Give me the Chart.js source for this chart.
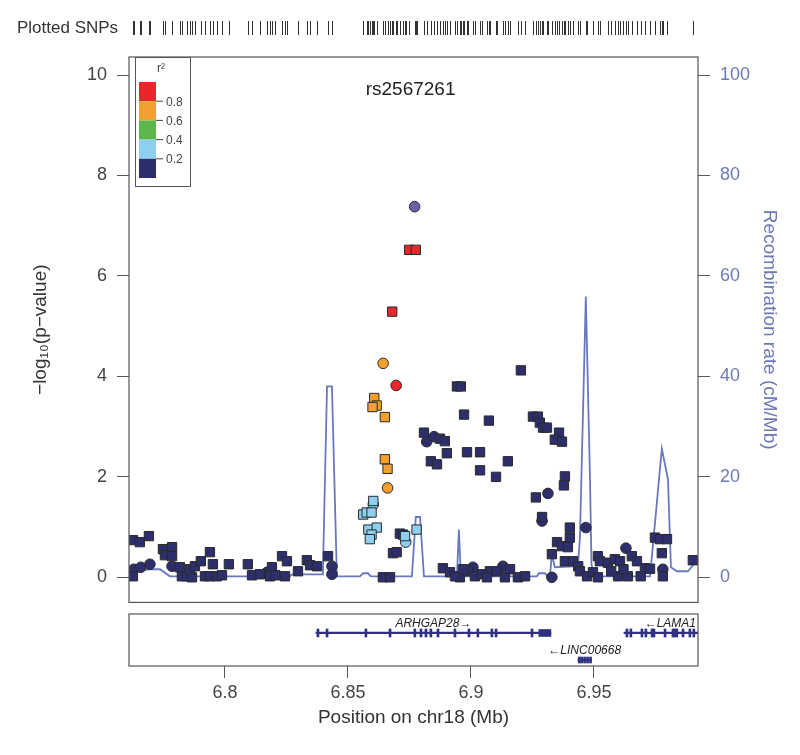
<!DOCTYPE html>
<html lang="en">
<head>
<meta charset="UTF-8">
<title>rs2567261 regional association plot</title>
<script src="https://cdn.jsdelivr.net/npm/chart.js"></script>
<style>
  body { margin: 0; background: #ffffff; }
  .wrap { position: relative; width: 800px; height: 755px; }
  #mainWrap { position: absolute; left: 0; top: 0; width: 800px; height: 610px; }
  #geneWrap { position: absolute; left: 0; top: 608px; width: 800px; height: 147px; }
</style>
</head>
<body>
<div class="wrap">
  <div id="mainWrap"><canvas id="mainChart"></canvas></div>
  <div id="geneWrap"><canvas id="geneChart"></canvas></div>
</div>
<script>
// ---- data (position in Mb, -log10 p) ----
const leadSnp = 'rs2567261';
const topSnp = [[6.8771, 7.38]];
const redSquares = [[6.8749, 6.52], [6.8776, 6.52], [6.8680, 5.29]];
const redCircles = [[6.8696, 3.82]];
const orangeSquares = [[6.8607, 3.57], [6.8617, 3.42], [6.8600, 3.39], [6.8650, 3.19], [6.8650, 2.35], [6.8661, 2.16]];
const orangeCircles = [[6.8643, 4.26], [6.8661, 1.78]];
const blueSquares = [[6.8603, 1.52], [6.8562, 1.25], [6.8576, 1.29], [6.8596, 1.29], [6.8583, 0.95],
  [6.8617, 0.99], [6.8596, 0.85], [6.8589, 0.76], [6.8732, 0.82], [6.8779, 0.95]];
const blueCircles = [[6.8603, 1.45], [6.8735, 0.70]];
const navySquares = [
  [6.7626, 0.74], [6.7654, 0.70], [6.7691, 0.82], [6.7626, 0.02], [6.7748, 0.56], [6.7785, 0.60], [6.7756, 0.44], [6.7785, 0.42],
  [6.7817, 0.20], [6.7825, 0.02], [6.7846, 0.02], [6.7866, 0.00], [6.7858, 0.16], [6.7878, 0.22], [6.7902, 0.32], [6.7939, 0.50],
  [6.7951, 0.26], [6.7919, 0.02], [6.7939, 0.02], [6.7967, 0.02], [6.7988, 0.04], [6.8016, 0.26], [6.8093, 0.26], [6.8110, 0.04],
  [6.8142, 0.06], [6.8191, 0.20], [6.8183, 0.02], [6.8205, 0.04], [6.8232, 0.42], [6.8252, 0.32], [6.8244, 0.02], [6.8297, 0.12],
  [6.8333, 0.34], [6.8346, 0.24], [6.8374, 0.22], [6.8419, 0.42],
  [6.8642, 0.00], [6.8671, 0.00], [6.8683, 0.48], [6.8698, 0.50], [6.8711, 0.87], [6.8724, 0.85],
  [6.8943, 3.80], [6.8959, 3.80], [6.9203, 4.12], [6.8972, 3.24], [6.9073, 3.12], [6.8809, 2.88], [6.8874, 2.76], [6.8894, 2.71],
  [6.8902, 2.47], [6.8984, 2.49], [6.9037, 2.49], [6.8837, 2.31], [6.8862, 2.25], [6.9037, 2.13], [6.9102, 2.00], [6.9150, 2.31],
  [6.9252, 3.20], [6.9272, 3.20], [6.9280, 3.08], [6.9293, 2.98], [6.9309, 2.98], [6.9358, 2.88], [6.9341, 2.74], [6.9370, 2.70],
  [6.9382, 2.01], [6.9378, 1.83], [6.9264, 1.59], [6.9289, 1.20],
  [6.9402, 0.99], [6.9402, 0.79], [6.9350, 0.70], [6.9370, 0.62], [6.9394, 0.60], [6.9329, 0.46], [6.9382, 0.32], [6.9415, 0.32],
  [6.9436, 0.22], [6.9516, 0.42], [6.9524, 0.32], [6.9557, 0.29],
  [6.8886, 0.18], [6.8915, 0.10], [6.8955, 0.00], [6.8988, 0.12], [6.9016, 0.02], [6.9077, 0.12], [6.9106, 0.12], [6.9138, 0.00],
  [6.9159, 0.16], [6.9191, 0.00], [6.9220, 0.02], [6.9045, 0.06], [6.9065, 0.00], [6.8935, 0.02], [6.8968, 0.16],
  [6.9443, 0.12], [6.9472, 0.02], [6.9496, 0.10], [6.9516, 0.00], [6.9585, 0.36], [6.9606, 0.32], [6.9654, 0.42], [6.9675, 0.32],
  [6.9707, 0.18], [6.9728, 0.17], [6.9598, 0.02], [6.9638, 0.02], [6.9690, 0.02], [6.9748, 0.79], [6.9768, 0.76], [6.9797, 0.76],
  [6.9776, 0.48], [6.9780, 0.02], [6.9902, 0.34], [6.9570, 0.12], [6.9620, 0.16]
];
const navyCircles = [[6.7630, 0.16], [6.7658, 0.20], [6.7695, 0.26], [6.7785, 0.22], [6.8171, 0.10], [6.8435, 0.22],
  [6.8435, 0.06], [6.8820, 2.70], [6.8850, 2.80], [6.9008, 0.20], [6.9130, 0.22], [6.9313, 1.67], [6.9289, 1.12],
  [6.9467, 0.99], [6.9329, 0.00], [6.9630, 0.58], [6.9780, 0.16]];

// recombination rate (cM/Mb)
const recombPos = [6.7610, 6.7695, 6.7736, 6.7776, 6.8264, 6.8272, 6.8398, 6.8415, 6.8435, 6.8455, 6.8549, 6.8561,
  6.8581, 6.8593, 6.8760, 6.8776, 6.8793, 6.8809, 6.8943, 6.8951, 6.8959, 6.9268, 6.9276, 6.9300, 6.9313, 6.9321,
  6.9329, 6.9341, 6.9435, 6.9443, 6.9467, 6.9484, 6.9490, 6.9500, 6.9728, 6.9740, 6.9776, 6.9801, 6.9813, 6.9837,
  6.9882, 6.9923];
const recombRate = [1.2, 1.6, 1.6, 0.2, 0.2, 0.6, 0.6, 38, 38, 0.2, 0.2, 0.8,
  0.8, 0.2, 0.2, 12, 12, 0.2, 0.2, 9.5, 0.2, 0.2, 0.8, 0.8, 0.2, 0.2,
  4.6, 2.0, 2.2, 7.8, 55.9, 19.5, 2.6, 0.2, 0.2, 6.5, 25.6, 19.5, 2.0, 1.2,
  1.2, 3.6];

const xTicks = [6.8, 6.85, 6.9, 6.95];
const yTicks = [0, 2, 4, 6, 8, 10];
const recombTicks = [0, 20, 40, 60, 80, 100];
const r2Breaks = ['0.8', '0.6', '0.4', '0.2'];

// genes
const geneNames = ['ARHGAP28', 'LAMA1', 'LINC00668'];
const geneStart = [6.8370, 6.9622, 6.9435];
const geneEnd = [6.9325, 7.1000, 6.9490];
const geneStrand = ['+', '-', '-'];
const geneRow = [0.635, 0.635, 0.115];
const arhgapExons = [6.8374, 6.8411, 6.8569, 6.8667, 6.8768, 6.8793, 6.8813, 6.8833, 6.8862, 6.8931, 6.8988,
  6.9024, 6.9081, 6.9098, 6.9244];
const arhgapUtr = [6.9276, 6.9325];
const lamaExons = [6.9630, 6.9646, 6.9691, 6.9707, 6.9732, 6.9740, 6.9785, 6.9817, 6.9825, 6.9833, 6.9858,
  6.9886, 6.9902];
const lincExons = [6.9436, 6.9446, 6.9458, 6.9470, 6.9482];

// ---- styling ----
const FONT = "'Liberation Sans', Arial, sans-serif";
const X_MIN = 6.761, X_MAX = 6.9923;
const C = { red: '#E8262B', orange: '#F5A02E', green: '#5DB64B', blue: '#8DCFEF', navy: '#2C2F6C',
  purple: '#6F5FA3', recomb: '#6878C0', axisBlue: '#6B7AB5', gene: '#2E3183' };

function snpSet(pts, color, style, order) {
  return {
    data: pts.map(p => ({ x: p[0], y: p[1] })),
    backgroundColor: color,
    borderColor: '#2a2a2a',
    borderWidth: 1,
    pointStyle: style,
    pointRadius: style === 'rect' ? 6.6 : 5.3,
    yAxisID: 'y',
    order: order
  };
}

// drop the label padding Chart.js reserves above/below vertical axes
function fixWidth(w) {
  return s => { s.width = w; s.paddingTop = 0; s.paddingBottom = 0; };
}

const allSnps = [].concat(topSnp, redSquares, redCircles, orangeSquares, orangeCircles,
  blueSquares, blueCircles, navySquares, navyCircles);

const mainDecor = {
  id: 'mainDecor',
  afterDraw(chart) {
    const { ctx, chartArea: a, scales } = chart;
    ctx.save();
    ctx.strokeStyle = '#555';
    ctx.lineWidth = 1.2;
    ctx.strokeRect(a.left, a.top, a.right - a.left, a.bottom - a.top);

    // plotted SNP rug
    ctx.strokeStyle = '#333';
    ctx.lineWidth = 1;
    allSnps.forEach(p => {
      const x = Math.round(scales.x.getPixelForValue(p[0])) + 0.5;
      ctx.beginPath();
      ctx.moveTo(x, 21);
      ctx.lineTo(x, 35);
      ctx.stroke();
    });
    ctx.fillStyle = '#333';
    ctx.font = '17px ' + FONT;
    ctx.textAlign = 'left';
    ctx.textBaseline = 'middle';
    ctx.fillText('Plotted SNPs', 17, 28);

    // lead SNP label
    ctx.fillStyle = '#222';
    ctx.font = '19px ' + FONT;
    ctx.textAlign = 'center';
    ctx.fillText(leadSnp, scales.x.getPixelForValue(topSnp[0][0]) - 4, 90);

    // r2 legend
    ctx.strokeStyle = '#555';
    ctx.strokeRect(135.5, 57.5, 55, 129);
    ctx.font = '12px ' + FONT;
    ctx.fillStyle = '#444';
    ctx.fillText('r²', 161, 69);
    const cols = [C.red, C.orange, C.green, C.blue, C.navy];
    const top = 82, h = 19.2;
    cols.forEach((c, i) => {
      ctx.fillStyle = c;
      ctx.fillRect(139, top + i * h, 17, h);
    });
    ctx.textAlign = 'left';
    ctx.fillStyle = '#444';
    ctx.strokeStyle = '#444';
    r2Breaks.forEach((t, i) => {
      const y = top + (i + 1) * h;
      ctx.beginPath();
      ctx.moveTo(156, y);
      ctx.lineTo(163, y);
      ctx.stroke();
      ctx.fillText(t, 166, y + 1);
    });
    ctx.restore();
  }
};

new Chart(document.getElementById('mainChart'), {
  type: 'scatter',
  data: {
    datasets: [
      snpSet(navySquares, C.navy, 'rect', 6),
      snpSet(navyCircles, C.navy, 'circle', 6),
      snpSet(blueSquares, C.blue, 'rect', 5),
      snpSet(blueCircles, C.blue, 'circle', 5),
      snpSet(orangeSquares, C.orange, 'rect', 4),
      snpSet(orangeCircles, C.orange, 'circle', 4),
      snpSet(redSquares, C.red, 'rect', 3),
      snpSet(redCircles, C.red, 'circle', 3),
      snpSet(topSnp, C.purple, 'circle', 1),
      {
        data: recombPos.map((x, i) => ({ x: x, y: recombRate[i] })),
        showLine: true,
        borderColor: C.recomb,
        borderWidth: 1.8,
        pointRadius: 0,
        tension: 0,
        yAxisID: 'y1',
        order: 10
      }
    ]
  },
  options: {
    responsive: true,
    maintainAspectRatio: false,
    animation: false,
    events: [],
    layout: { padding: { top: 57, bottom: 7, left: 0, right: 0 } },
    plugins: { legend: { display: false }, tooltip: { enabled: false } },
    scales: {
      x: { type: 'linear', min: X_MIN, max: X_MAX, display: false },
      y: {
        position: 'left',
        min: -0.5,
        max: 10.36,
        afterBuildTicks: s => { s.ticks = yTicks.map(v => ({ value: v })); },
        afterFit: fixWidth(129),
        ticks: { color: '#444', font: { size: 18, family: FONT }, padding: 10 },
        grid: { drawOnChartArea: false, tickLength: 12, tickColor: '#555' },
        border: { display: false },
        title: { display: true, text: '−log₁₀(p−value)', color: '#333', font: { size: 19, family: FONT },
          padding: { top: 29, bottom: 0 } }
      },
      y1: {
        position: 'right',
        min: -5,
        max: 103.6,
        afterBuildTicks: s => { s.ticks = recombTicks.map(v => ({ value: v })); },
        afterFit: fixWidth(102),
        ticks: { color: C.axisBlue, font: { size: 18, family: FONT }, padding: 10 },
        grid: { drawOnChartArea: false, tickLength: 12, tickColor: '#555' },
        border: { display: false },
        title: { display: true, text: 'Recombination rate (cM/Mb)', color: C.axisBlue,
          font: { size: 19, family: FONT }, padding: { top: 19, bottom: 0 } }
      }
    }
  },
  plugins: [mainDecor]
});

// ---- gene track ----
function exonBars(list, row, w) {
  return list.map(e => ({ x: [e, e + w], y: row }));
}

const geneDecor = {
  id: 'geneDecor',
  afterDraw(chart) {
    const { ctx, chartArea: a, scales } = chart;
    ctx.save();
    ctx.strokeStyle = '#555';
    ctx.lineWidth = 1.2;
    ctx.strokeRect(a.left, a.top, a.right - a.left, a.bottom - a.top);
    ctx.fillStyle = '#222';
    ctx.font = 'italic 12px ' + FONT;
    ctx.textBaseline = 'middle';
    ctx.textAlign = 'center';
    geneNames.forEach((g, i) => {
      const label = geneStrand[i] === '+' ? g + '→' : '←' + g;
      const w = ctx.measureText(label).width;
      let cx = scales.x.getPixelForValue((geneStart[i] + geneEnd[i]) / 2);
      cx = Math.min(cx, a.right - 2 - w / 2);
      ctx.fillText(label, cx, scales.y.getPixelForValue(geneRow[i]) - 9);
    });
    ctx.restore();
  }
};

new Chart(document.getElementById('geneChart'), {
  type: 'bar',
  data: {
    datasets: [
      {
        data: geneNames.map((g, i) => ({ x: [geneStart[i], geneEnd[i]], y: geneRow[i] })),
        backgroundColor: C.gene, barThickness: 1.6, grouped: false, clip: 0
      },
      {
        data: exonBars(arhgapExons, geneRow[0], 0.0003).concat(exonBars(lamaExons, geneRow[1], 0.0003)),
        backgroundColor: C.gene, barThickness: 8, minBarLength: 2, grouped: false, clip: 0
      },
      {
        data: [{ x: arhgapUtr, y: geneRow[0] }],
        backgroundColor: C.gene, barThickness: 7, grouped: false, clip: 0
      },
      {
        data: exonBars(lincExons, geneRow[2], 0.0008),
        backgroundColor: C.gene, barThickness: 6, minBarLength: 2, grouped: false, clip: 0
      }
    ]
  },
  options: {
    indexAxis: 'y',
    responsive: true,
    maintainAspectRatio: false,
    animation: false,
    events: [],
    layout: { padding: { top: 6, bottom: 0, left: 129, right: 102 } },
    plugins: { legend: { display: false }, tooltip: { enabled: false } },
    scales: {
      y: { type: 'linear', min: 0, max: 1, offset: false, display: false },
      x: {
        type: 'linear',
        position: 'bottom',
        min: X_MIN,
        max: X_MAX,
        afterBuildTicks: s => { s.ticks = xTicks.map(v => ({ value: v })); },
        afterFit: s => { s.height = 89; },
        ticks: { color: '#444', font: { size: 18, family: FONT }, padding: 4, callback: v => String(v) },
        grid: { drawOnChartArea: false, tickLength: 12, tickColor: '#555' },
        border: { display: false },
        title: { display: true, text: 'Position on chr18 (Mb)', color: '#333', font: { size: 19, family: FONT },
          padding: { top: 0, bottom: 26 } }
      }
    }
  },
  plugins: [geneDecor]
});
</script>
</body>
</html>
